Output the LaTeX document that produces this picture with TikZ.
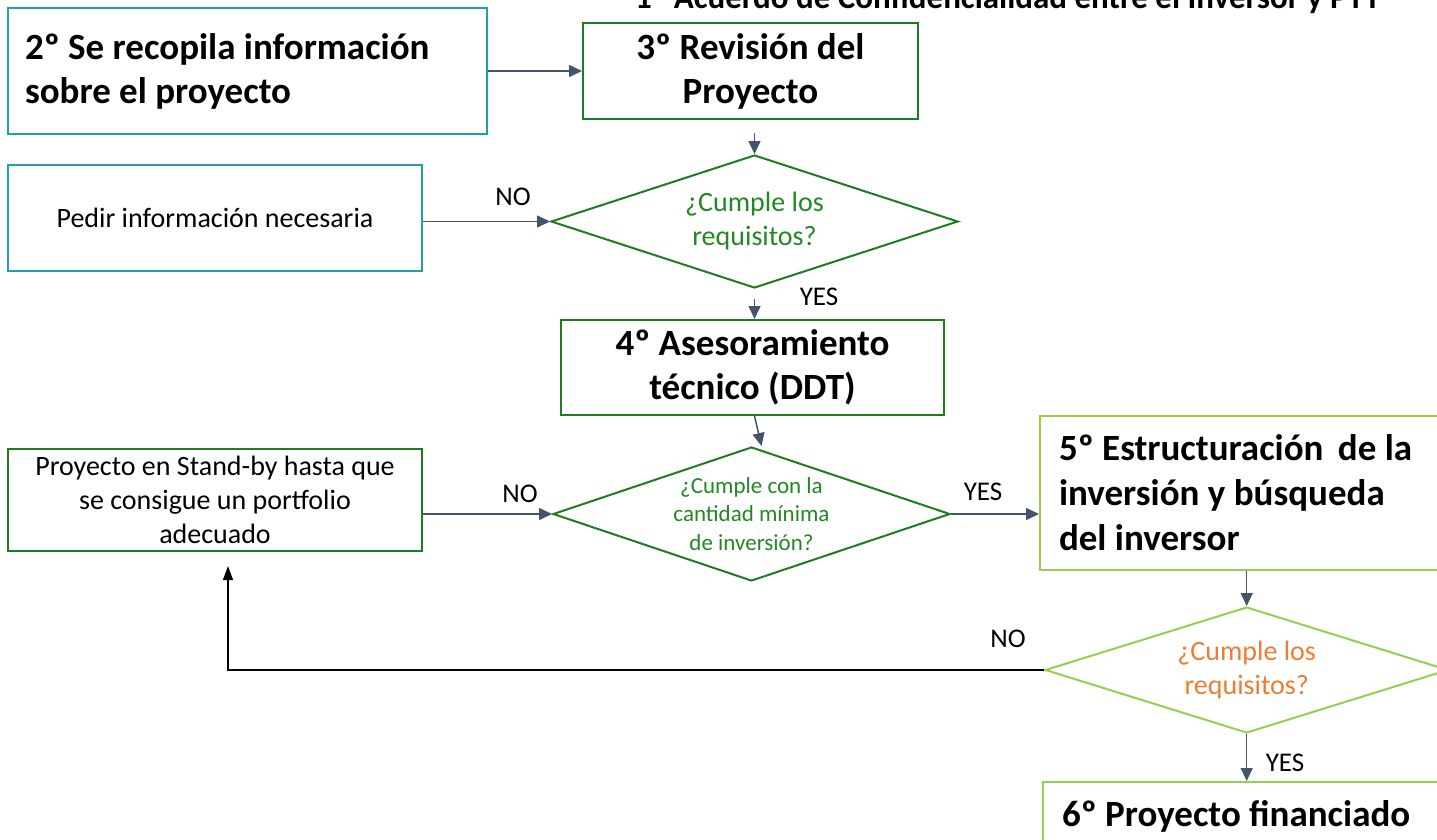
\documentclass[tikz,border=0pt]{standalone}
\usepackage{fontspec}
\setmainfont{Carlito}
\usetikzlibrary{shapes.geometric,arrows.meta,calc}
\definecolor{teal1}{RGB}{32,160,170}
\definecolor{dkgreen}{RGB}{30,125,30}
\definecolor{txtgreen}{RGB}{35,135,35}
\definecolor{ltgreen}{RGB}{146,208,80}
\definecolor{orange1}{RGB}{237,125,49}
\definecolor{slate}{RGB}{68,84,106}
\begin{document}
\begin{tikzpicture}[x=1pt,y=-1pt,
  box/.style={draw,line width=2pt,rectangle,inner sep=0pt,align=center},
  boldtxt/.style={font=\fontsize{37}{44}\selectfont\bfseries},
  normtxt/.style={font=\fontsize{28}{34}\selectfont},
  dia/.style={diamond,draw,line width=2pt,aspect=3,inner sep=0pt,align=center},
  arr/.style={draw=slate,line width=1.5pt,-{Triangle[length=13pt,width=12pt]}},
  blk/.style={draw=black,line width=1.2pt,-{Triangle[length=14pt,width=10pt]}},
  lbl/.style={font=\fontsize{27}{32}\selectfont,inner sep=0pt}
]
\useasboundingbox (0,0) rectangle (1437,839);
\clip (0,0) rectangle (1437,839);

\node[anchor=base west,font=\fontsize{33}{40}\selectfont\bfseries,inner sep=0pt] (title) at (635,8) {1º Acuerdo de Confidencialidad entre el Inversor y PTT};

\node[box,draw=teal1,minimum width=479pt,minimum height=126pt,inner xsep=17pt,text width=445pt,align=flush left,boldtxt] (b2) at (247.5,71) {2º Se recopila información\\sobre el proyecto};

\node[box,draw=dkgreen,minimum width=335pt,minimum height=96pt,boldtxt] (b3) at (750.5,71) {3º Revisión del\\Proyecto};

\node[dia,draw=dkgreen,text=txtgreen,minimum width=407pt,minimum height=133pt,normtxt] (d1) at (754.5,221.5) {¿Cumple los\\requisitos?};

\node[box,draw=teal1,minimum width=414pt,minimum height=106pt,normtxt] (pedir) at (215,218) {Pedir información necesaria};

\node[box,draw=dkgreen,minimum width=383pt,minimum height=95pt,boldtxt] (b4) at (752.5,367.5) {4º Asesoramiento\\técnico (DDT)};

\node[dia,draw=dkgreen,text=txtgreen,minimum width=397pt,minimum height=134pt,font=\fontsize{23}{28.5}\selectfont] (d2) at (751.5,514) {¿Cumple con la\\cantidad mínima\\de inversión?};

\node[box,draw=dkgreen,minimum width=414pt,minimum height=102pt,normtxt] (sb) at (215,500) {Proyecto en Stand-by hasta que\\se consigue un portfolio\\adecuado};

\node[box,draw=ltgreen,minimum width=405pt,minimum height=154pt,inner xsep=19pt,text width=367pt,align=flush left,font=\fontsize{37}{45}\selectfont\bfseries] (b5) at (1242.5,493) {5º Estructuración\hspace{6pt} de la\\inversión y búsqueda\\del inversor};

\node[dia,draw=ltgreen,text=orange1,minimum width=403pt,minimum height=126pt,normtxt] (d3) at (1246.7,670) {¿Cumple los\\requisitos?};

\node[box,draw=ltgreen,minimum width=402pt,minimum height=68pt,inner xsep=19pt,text width=364pt,align=flush left,boldtxt] (b6) at (1244,816) {6º Proyecto financiado};

\node[lbl] (no1) at (513,197) {NO};
\node[lbl] (yes1) at (819,297) {YES};
\node[lbl] (no2) at (520,494) {NO};
\node[lbl] (yes2) at (983,492) {YES};
\node[lbl] (no3) at (1008,639) {NO};
\node[lbl] (yes3) at (1285,763) {YES};

\draw[arr] (b2.east) -- (b3.west);
\draw[arr] ($(b3.south -| d1.north)+(0,13)$) -- (d1.north);
\draw[arr] (pedir.east |- d1.west) -- (d1.west);
\draw[arr] ($(d1.south)+(0,10)$) -- (d1.south |- b4.north);
\draw[arr] ($(b4.south)+(2,0)$) -- ($(d2.north)+(10,0)$);
\draw[arr] (sb.east |- d2.west) -- (d2.west);
\draw[arr] (d2.east) -- (d2.east -| b5.west);
\draw[arr] (d3.north |- b5.south) -- (d3.north);
\draw[blk] (d3.west) -| ($(sb.south)+(13,14)$);
\draw[arr] (d3.south) -- (d3.south |- b6.north);
\end{tikzpicture}
\end{document}
